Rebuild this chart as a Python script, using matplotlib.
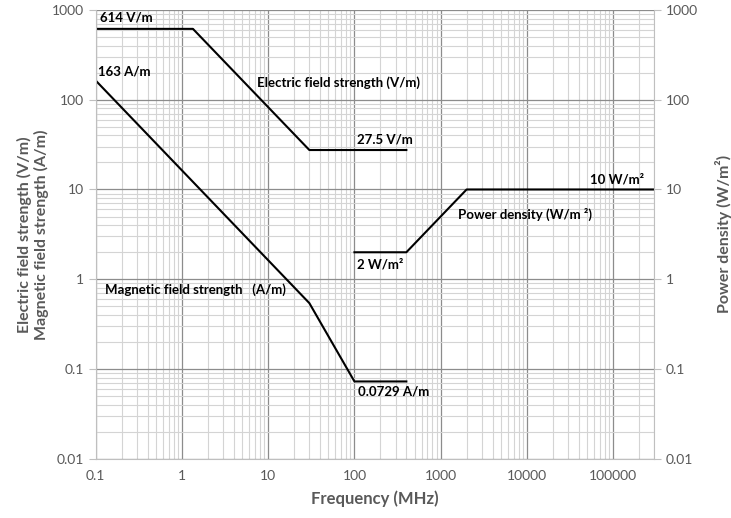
import matplotlib.pyplot as plt
from matplotlib.ticker import FixedLocator, FuncFormatter, LogLocator, NullFormatter

# limit curves (frequency in MHz)
E_FREQ = [0.1, 1.34, 30, 400]
E_VALUE = [614, 614, 27.5, 27.5]
H_FREQ = [0.1, 30, 100, 400]
H_VALUE = [163, 0.543, 0.0729, 0.0729]
S_FREQ = [100, 400, 2000, 300000]
S_VALUE = [2, 2, 10, 10]

X_TICKS = [0.1, 1, 10, 100, 1000, 10000, 100000]
Y_TICKS = [0.01, 0.1, 1, 10, 100, 1000]

# (text, x, y, ha)
LABELS = [
    ("614 V/m", 0.111, 815, "left"),
    ("163 A/m", 0.105, 205, "left"),
    ("Electric field strength (V/m)", 7.45, 154, "left"),
    ("27.5 V/m", 108, 36, "left"),
    ("10 W/m²", 230000, 12.9, "right"),
    ("Power density (W/m ²)", 1578, 5.27, "left"),
    ("2 W/m²", 108, 1.47, "left"),
    ("Magnetic field strength   (A/m)", 0.127, 0.774, "left"),
    ("0.0729 A/m", 110, 0.057, "left"),
]

GRAY = "#595959"

plt.rcParams.update({
    "font.family": ["Lato", "DejaVu Sans"],
    "font.size": 10,
})

fig = plt.figure(figsize=(7.31, 5.18), dpi=100, facecolor="white")
ax = fig.add_axes([0.131, 0.114, 0.764, 0.867])
ax.set_xscale("log")
ax.set_yscale("log")
ax.set_xlim(0.1, 300000)
ax.set_ylim(0.01, 1000)

ax.xaxis.set_major_locator(FixedLocator(X_TICKS))
ax.yaxis.set_major_locator(FixedLocator(Y_TICKS))
ax.xaxis.set_minor_locator(LogLocator(base=10, subs=range(2, 10)))
ax.yaxis.set_minor_locator(LogLocator(base=10, subs=range(2, 10)))
ax.xaxis.set_minor_formatter(NullFormatter())
ax.yaxis.set_minor_formatter(NullFormatter())
fmt = FuncFormatter(lambda v, pos: f"{v:.10g}")
ax.xaxis.set_major_formatter(fmt)
ax.yaxis.set_major_formatter(fmt)

ax.grid(which="minor", color="#d4d4d4", linewidth=0.8)
ax.grid(which="major", color="#8c8c8c", linewidth=0.9)
ax.set_axisbelow(True)

ax.tick_params(which="both", colors="#bfbfbf", labelcolor=GRAY, labelsize=10)
ax.tick_params(axis="x", which="both", length=0, pad=8)
ax.tick_params(axis="y", which="major", length=5)
ax.tick_params(axis="y", which="minor", length=0)
for side in ["top", "right"]:
    ax.spines[side].set_visible(False)
for side in ["left", "bottom"]:
    ax.spines[side].set_color("#bfbfbf")

ax.plot(E_FREQ, E_VALUE, color="black", linewidth=1.5)
ax.plot(H_FREQ, H_VALUE, color="black", linewidth=1.5)
ax.plot(S_FREQ, S_VALUE, color="black", linewidth=1.5)

for text, x, y, ha in LABELS:
    ax.text(x, y, text, ha=ha, va="center", fontsize=9.5, fontweight="bold", color="black")

ax.set_xlabel("Frequency (MHz)", fontsize=12, fontweight="bold", color=GRAY, labelpad=6)
ax.set_ylabel("Electric field strength (V/m)\nMagnetic field strength (A/m)",
              fontsize=11.5, fontweight="bold", color=GRAY, labelpad=2, linespacing=1.2)

ax2 = ax.twinx()
ax2.set_yscale("log")
ax2.set_ylim(0.01, 1000)
ax2.yaxis.set_major_locator(FixedLocator(Y_TICKS))
ax2.yaxis.set_minor_locator(LogLocator(base=10, subs=range(2, 10)))
ax2.yaxis.set_minor_formatter(NullFormatter())
ax2.yaxis.set_major_formatter(fmt)
ax2.tick_params(which="major", colors="#bfbfbf", labelcolor=GRAY, labelsize=10, length=5)
ax2.tick_params(which="minor", length=0)
for side in ["top", "left", "bottom"]:
    ax2.spines[side].set_visible(False)
ax2.spines["right"].set_color("#bfbfbf")
ax2.set_ylabel("Power density (W/m²)", fontsize=11.5, fontweight="bold", color=GRAY, labelpad=12)

fig.savefig("out.png", dpi=100, facecolor="white")
